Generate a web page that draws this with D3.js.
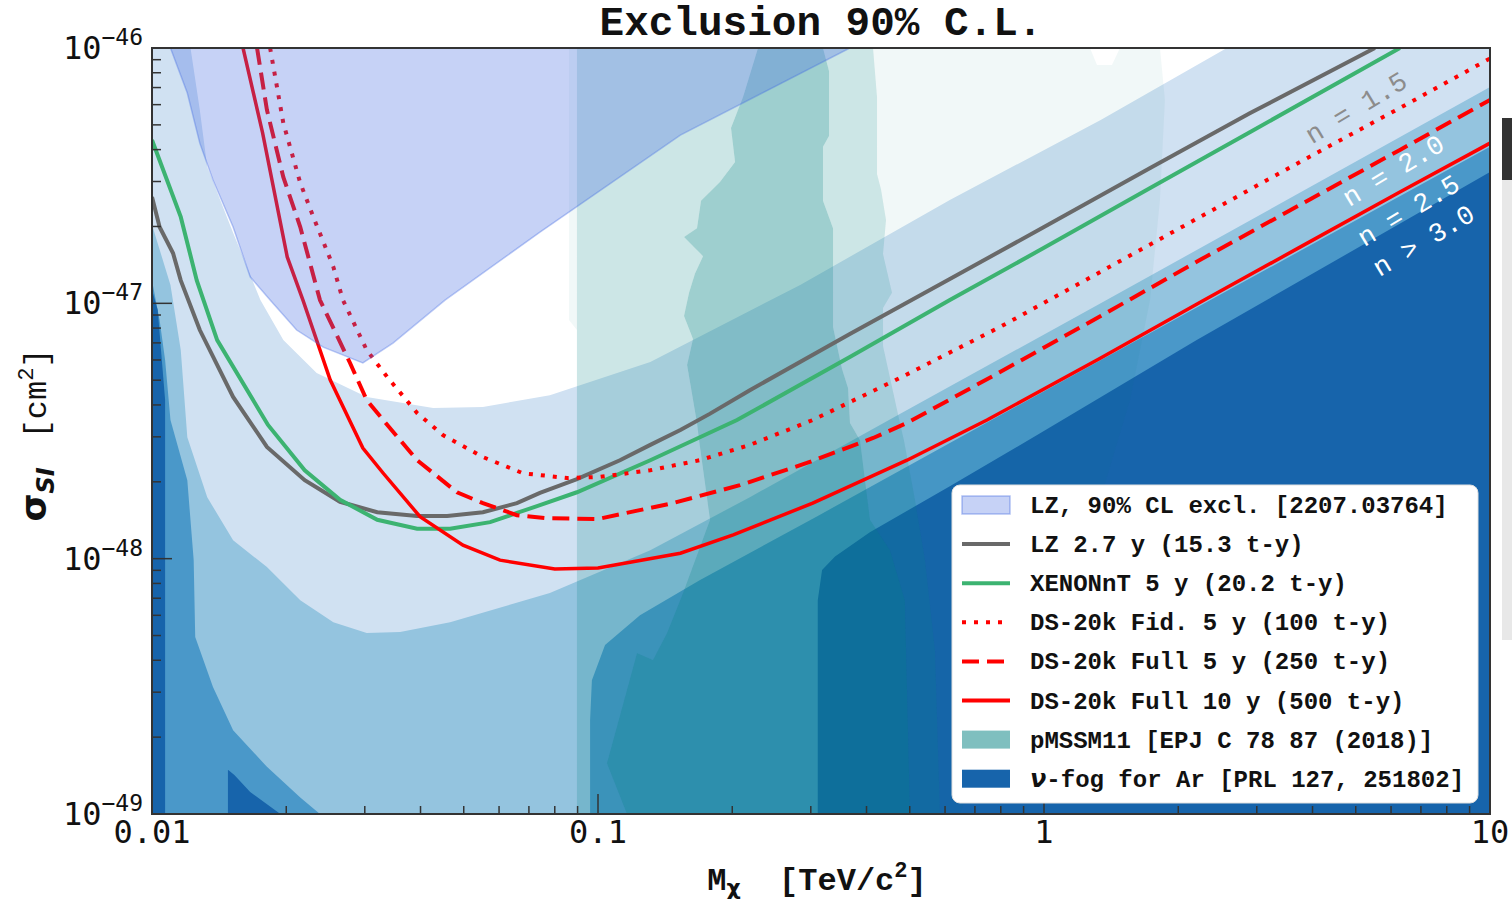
<!DOCTYPE html>
<html>
<head>
<meta charset="utf-8">
<script src="https://cdn.jsdelivr.net/npm/d3@7"></script>
<style>
  body { margin: 0; background: #fff; }
  text { white-space: pre; }
</style>
</head>
<body>
<script>
// ---- data (mass in TeV/c^2, cross section in cm^2) ----
var lz27 = [[0.01,2.61e-47],[0.0104,1.99e-47],[0.01115,1.57e-47],[0.0116,1.23e-47],[0.0128,7.86e-48],
            [0.0152,4.30e-48],[0.0181,2.74e-48],[0.022,2.03e-48],[0.0264,1.67e-48],[0.032,1.52e-48],
            [0.0393,1.47e-48],[0.0459,1.47e-48],[0.0552,1.52e-48],[0.0658,1.65e-48],[0.0741,1.81e-48],
            [0.0897,2.05e-48],[0.112,2.43e-48],[0.131,2.79e-48],[0.153,3.19e-48],[0.178,3.69e-48],
            [0.219,4.57e-48],[0.367,7.58e-48],[0.615,1.245e-47],[1.0,1.99e-47],[1.73,3.39e-47],
            [2.90,5.56e-47],[5.52,1e-46]];

var xenon5 = [[0.01,4.36e-47],[0.0116,2.18e-47],[0.0126,1.23e-47],[0.014,7.18e-48],[0.0182,3.34e-48],
              [0.022,2.22e-48],[0.0264,1.70e-48],[0.032,1.42e-48],[0.0393,1.31e-48],[0.0466,1.31e-48],
              [0.0573,1.39e-48],[0.0658,1.51e-48],[0.0741,1.62e-48],[0.0897,1.82e-48],[0.131,2.43e-48],
              [0.205,3.49e-48],[0.367,6.16e-48],[0.615,1.03e-47],[1.0,1.65e-47],[1.73,2.83e-47],
              [2.90,4.69e-47],[6.28,1e-46]];

var dsFid5 = [[0.0184,1e-46],[0.0197,5.08e-47],[0.0215,2.96e-47],[0.023,2.18e-47],[0.0255,1.39e-47],
              [0.0268,1.03e-47],[0.0303,6.56e-48],[0.0337,5.14e-48],[0.0393,3.72e-48],[0.0449,3.05e-48],
              [0.0552,2.50e-48],[0.0679,2.16e-48],[0.0852,2.07e-48],[0.101,2.09e-48],[0.131,2.22e-48],
              [0.169,2.43e-48],[0.219,2.79e-48],[0.303,3.49e-48],[0.475,5.10e-48],[0.797,8.08e-48],
              [1.34,1.33e-47],[2.24,2.18e-47],[3.75,3.58e-47],[6.28,5.82e-47],[10,9.1e-47]];

var dsFull5 = [[0.0172,1e-46],[0.0181,5.72e-47],[0.0197,3.12e-47],[0.0215,1.99e-47],[0.0238,1.03e-47],
               [0.0278,5.84e-48],[0.0303,4.18e-48],[0.033,3.49e-48],[0.0393,2.43e-48],[0.0483,1.82e-48],
               [0.0552,1.65e-48],[0.0658,1.48e-48],[0.0769,1.44e-48],[0.1,1.43e-48],[0.147,1.65e-48],
               [0.208,1.94e-48],[0.294,2.37e-48],[0.414,2.97e-48],[0.493,3.40e-48],[0.797,5.38e-48],
               [1.34,8.92e-48],[2.24,1.48e-47],[3.75,2.43e-47],[6.28,3.99e-47],[10,6.26e-47]];

var dsFull10 = [[0.016,1e-46],[0.0177,4.65e-47],[0.0201,1.52e-47],[0.0218,1.03e-47],[0.0251,5.01e-48],
                [0.0297,2.71e-48],[0.033,2.16e-48],[0.0399,1.46e-48],[0.0498,1.13e-48],[0.0603,9.87e-49],
                [0.08,9.11e-49],[0.1,9.19e-49],[0.153,1.05e-48],[0.201,1.24e-48],[0.303,1.65e-48],
                [0.493,2.43e-48],[0.745,3.49e-48],[1.34,6.11e-48],[2.24,1.01e-47],[3.75,1.66e-47],
                [6.28,2.73e-47],[10,4.24e-47]];

var lzExcl = [[0.011,1e-46],[0.012,6.66e-47],[0.0128,4.24e-47],[0.0137,3.04e-47],[0.0152,1.99e-47],
              [0.0166,1.27e-47],[0.0184,1.03e-47],[0.0211,7.86e-48],[0.0242,6.74e-48],[0.0297,5.84e-48],
              [0.0347,6.99e-48],[0.0454,1.03e-47],[0.0741,1.90e-47],[0.153,4.56e-47],[0.367,1e-46]];

// neutrino fog contours (upper edge of each band)
var fog15 = [[0.0122,1e-46],[0.0128,5.72e-47],[0.0133,3.42e-47],[0.0152,1.89e-47],[0.0175,1.03e-47],
             [0.0197,7.18e-48],[0.0234,5.33e-48],[0.0303,4.30e-48],[0.0427,3.89e-48],[0.0552,3.93e-48],
             [0.078,4.37e-48],[0.131,5.89e-48],[0.284,1.18e-47],[0.615,2.54e-47],[1.34,5.22e-47],[2.57,1e-46]];
var fog20 = [[0.01,2.03e-47],[0.011,1.18e-47],[0.0116,6.56e-48],[0.012,2.99e-48],[0.0133,1.74e-48],
             [0.0152,1.18e-48],[0.0181,9.27e-49],[0.0215,6.88e-49],[0.0255,5.64e-49],[0.0303,5.11e-49],
             [0.036,5.16e-49],[0.0466,5.64e-49],[0.078,7.33e-49],[0.131,1.08e-48],[0.219,1.74e-48],
             [0.475,3.69e-48],[1.34,1e-47],[10,7.03e-47]];
var fog25Low = [[0.01,1.23e-47],[0.0104,8.6e-48],[0.0107,6.0e-48],[0.011,3.49e-48],[0.012,2.03e-48],
                [0.0124,9.87e-49],[0.0125,4.93e-49],[0.0137,3.14e-49],[0.0152,2.13e-49],[0.0181,1.53e-49],
                [0.0215,1.16e-49],[0.0238,1e-49]];
var fog25High = [[0.096,1e-49],[0.096,2.33e-49],[0.0969,3.34e-49],[0.1037,4.59e-49],[0.1242,6.01e-49],
                 [0.169,8.24e-49],[0.311,1.47e-48],[0.615,2.84e-48],[1.62,7.18e-48],[10,4.10e-47]];
var fog30Low = [[0.01,1.13e-47],[0.0103,9.41e-48],[0.0107,4.18e-48],[0.0107,1e-49]];
var fog30Spot = [[0.0148,1e-49],[0.0148,1.49e-49],[0.0153,1.42e-49],[0.0166,1.22e-49],[0.0194,1e-49]];
var fog30High = [[0.311,1e-49],[0.311,6.88e-49],[0.318,9.03e-49],[0.34,1.02e-48],[0.407,1.27e-48],
                 [0.615,1.92e-48],[0.98,3.10e-48],[2.2,7.18e-48],[10,3.27e-47]];

// pMSSM11 contours
var pmssmOuter = [[0.0861,1e-46],[1.268,1e-46],[1.315,8.58e-47],[1.42,8.58e-47],[1.48,1e-46],[1.82,1e-46],
                  [1.867,6.26e-47],[1.82,2.54e-47],[1.729,1.03e-47],[1.559,4.18e-48],[1.336,1.70e-48],
                  [1.086,6.88e-49],[0.797,2.79e-49],[0.648,1e-49],[0.0897,1e-49],[0.0897,7.86e-48],[0.0861,8.60e-48]];
var pmssmMid = [[0.0897,1e-46],[0.0897,1e-49],[0.5845,1e-49],[0.5696,4.39e-49],[0.541,9.87e-49],[0.5137,1.70e-48],
                [0.4853,2.91e-48],[0.4754,3.40e-48],[0.4356,6.80e-48],[0.4356,9.58e-48],[0.4563,1.10e-47],
                [0.4356,1.56e-47],[0.4424,2.12e-47],[0.4311,2.80e-47],[0.4223,3.21e-47],[0.4223,6.43e-47],[0.4137,1e-46]];
var pmssmCore = [[0.2284,1e-46],[0.2114,6.43e-47],[0.1987,4.86e-47],[0.2029,3.58e-47],[0.1877,2.99e-47],
                 [0.1702,2.52e-47],[0.1667,1.97e-47],[0.1559,1.82e-47],[0.172,1.53e-47],[0.165,1.31e-47],
                 [0.16,1.10e-47],[0.1559,8.92e-48],[0.1633,7.25e-48],[0.1584,5.73e-48],[0.1667,3.40e-48],
                 [0.1685,2.91e-48],[0.1783,1.42e-48],[0.1551,7.33e-49],[0.1428,5.11e-49],[0.1328,4.01e-49],
                 [0.1223,4.27e-49],[0.1047,1.58e-49],[0.1161,1e-49],[0.5006,1e-49],[0.4876,6.88e-49],
                 [0.4516,1.08e-48],[0.4073,1.42e-48],[0.3868,2.91e-48],[0.3673,3.40e-48],[0.3636,4.66e-48],
                 [0.3525,5.53e-48],[0.3365,8.08e-48],[0.3365,1.97e-47],[0.3195,2.52e-47],[0.3195,4.10e-47],
                 [0.3296,4.52e-47],[0.3296,8.13e-47],[0.3195,1e-46]];

var xTickLabels = ["0.01", "0.1", "1", "10"];
var yTickExps = ["-49", "-48", "-47", "-46"];
var fogLabels = ["n = 1.5", "n = 2.0", "n = 2.5", "n > 3.0"];
var fogLabelPos = [[5.0, 5.87e-47], [6.06, 3.33e-47], [6.55, 2.32e-47], [7.08, 1.77e-47]];
var legendLabels = ["LZ, 90% CL excl. [2207.03764]", "LZ 2.7 y (15.3 t-y)", "XENONnT 5 y (20.2 t-y)",
                    "DS-20k Fid. 5 y (100 t-y)", "DS-20k Full 5 y (250 t-y)", "DS-20k Full 10 y (500 t-y)",
                    "pMSSM11 [EPJ C 78 87 (2018)]", "-fog for Ar [PRL 127, 251802]"];

// ---- layout ----
var w = 1512, h = 903;
var pL = 152, pR = 1490, pT = 48, pB = 814;
var mono = "'Liberation Mono', 'Courier New', monospace";
var sans = "'DejaVu Sans', sans-serif";

var x = d3.scaleLog().domain([0.01, 10]).range([pL, pR]);
var y = d3.scaleLog().domain([1e-49, 1e-46]).range([pB, pT]);
var xMin = x.domain()[0], xMax = x.domain()[1], yMin = y.domain()[0], yMax = y.domain()[1];

var svg = d3.select("body").append("svg").attr("width", w).attr("height", h);

svg.append("defs").append("clipPath").attr("id", "plot")
   .append("rect").attr("x", pL).attr("y", pT)
   .attr("width", pR - pL).attr("height", pB - pT);

var line = d3.line().x(function(d){ return x(d[0]); }).y(function(d){ return y(d[1]); });
function poly(pts){ return line(pts) + "Z"; }

var plot = svg.append("g").attr("clip-path", "url(#plot)");

// fog bands, lightest first
var fogColors = ["#d0e1f2", "#94c4df", "#4a98c9", "#1764ab"];
var fogShapes = [
  [[[xMin, yMax]].concat(fog15, [[xMax, yMax], [xMax, yMin], [xMin, yMin]])],
  [fog20.concat([[xMax, yMin], [xMin, yMin]])],
  [fog25Low.concat([[xMin, yMin]]), fog25High.concat([[xMax, yMin]])],
  [fog30Low.concat([[xMin, yMin]]), fog30Spot, fog30High.concat([[xMax, yMin]])]
];
fogShapes.forEach(function(shapes, i){
  plot.selectAll(null).data(shapes).enter().append("path")
      .attr("d", poly)
      .attr("fill", fogColors[i]);
});

// pMSSM11 bands (disjoint rings)
var teal = "#008080";
plot.append("path").attr("d", poly(pmssmOuter) + poly(pmssmMid))
    .attr("fill", teal).attr("fill-opacity", 0.055).attr("fill-rule", "evenodd");
plot.append("path").attr("d", poly(pmssmMid) + poly(pmssmCore))
    .attr("fill", teal).attr("fill-opacity", 0.2).attr("fill-rule", "evenodd");
plot.append("path").attr("d", poly(pmssmCore))
    .attr("fill", teal).attr("fill-opacity", 0.38);

// sensitivity curves
var curves = [
  {data: lz27, color: "#696969", width: 4, dash: null},
  {data: xenon5, color: "#3cb371", width: 4, dash: null},
  {data: dsFid5, color: "#ff0000", width: 4, dash: "4,8"},
  {data: dsFull5, color: "#ff0000", width: 4, dash: "17,8"},
  {data: dsFull10, color: "#ff0000", width: 3.5, dash: null}
];
plot.selectAll(".curve").data(curves).enter().append("path")
    .attr("class", "curve")
    .attr("d", function(c){ return line(c.data); })
    .attr("fill", "none")
    .attr("stroke", function(c){ return c.color; })
    .attr("stroke-width", function(c){ return c.width; })
    .attr("stroke-dasharray", function(c){ return c.dash; });

// LZ exclusion on top of the curves
plot.append("path")
    .attr("d", poly([[xMin, yMax]].concat(lzExcl)))
    .attr("fill", "rgba(65,105,225,0.3)")
    .attr("stroke", "rgba(65,105,225,0.35)")
    .attr("stroke-width", 1.5);

// fog band labels
plot.selectAll(".nlab").data(fogLabels).enter().append("text")
    .attr("class", "nlab")
    .attr("transform", function(d, i){
      return "translate(" + x(fogLabelPos[i][0]) + "," + y(fogLabelPos[i][1]) + ") rotate(-31)";
    })
    .attr("text-anchor", "middle")
    .attr("dy", "0.35em")
    .attr("font-family", mono)
    .attr("font-size", "27px")
    .attr("fill", function(d, i){ return i === 0 ? "#8c8c8c" : "#ffffff"; })
    .text(function(d){ return d; });

// ticks (inward)
function isMajor(v){ var l = Math.log10(v); return Math.abs(l - Math.round(l)) < 1e-6; }
var tickColor = "#333";
svg.selectAll(".ytick").data(y.ticks()).enter().append("line")
   .attr("x1", pL).attr("x2", function(d){ return pL + (isMajor(d) ? 20 : 9); })
   .attr("y1", function(d){ return y(d); }).attr("y2", function(d){ return y(d); })
   .attr("stroke", tickColor).attr("stroke-width", 1.5);
svg.selectAll(".xtick").data(x.ticks()).enter().append("line")
   .attr("y1", pB).attr("y2", function(d){ return pB - (isMajor(d) ? 20 : 8); })
   .attr("x1", function(d){ return x(d); }).attr("x2", function(d){ return x(d); })
   .attr("stroke", tickColor).attr("stroke-width", 1.5);

// frame
svg.append("rect").attr("x", pL).attr("y", pT)
   .attr("width", pR - pL).attr("height", pB - pT)
   .attr("fill", "none").attr("stroke", "#333").attr("stroke-width", 2);

// tick labels
var xMajors = x.ticks().filter(isMajor);
svg.selectAll(".xlab").data(xMajors).enter().append("text")
   .attr("x", function(d){ return x(d); }).attr("y", 843)
   .attr("text-anchor", "middle")
   .attr("font-family", "'DejaVu Sans Mono', monospace").attr("font-size", "32px")
   .attr("fill", "#111")
   .text(function(d, i){ return xTickLabels[i]; });

var yMajors = y.ticks().filter(isMajor);
var ylab = svg.selectAll(".ylab").data(yMajors).enter().append("text")
   .attr("x", 143).attr("y", function(d){ return y(d) + 11; })
   .attr("text-anchor", "end")
   .attr("font-family", "'DejaVu Sans Mono', monospace")
   .attr("fill", "#111");
ylab.append("tspan").attr("font-size", "32px").text("10");
ylab.append("tspan").attr("font-size", "23px").attr("dy", -14)
    .text(function(d, i){ return yTickExps[i].replace("-", "\u2212"); });

// title and axis labels
svg.append("text").attr("x", (pL + pR) / 2).attr("y", 35)
   .attr("text-anchor", "middle").attr("font-family", mono)
   .attr("font-weight", "bold").attr("font-size", "41px").attr("fill", "#111")
   .text("Exclusion 90% C.L.");

var xt = svg.append("text").attr("x", 817).attr("y", 890)
   .attr("text-anchor", "middle").attr("font-family", mono)
   .attr("font-weight", "bold").attr("font-size", "32px").attr("fill", "#111");
xt.append("tspan").text("M");
xt.append("tspan").attr("font-family", sans).attr("font-size", "22px").attr("dy", 5).text("χ");
xt.append("tspan").attr("dy", -5).text("  [TeV/c");
xt.append("tspan").attr("font-size", "22px").attr("dy", -13).text("2");
xt.append("tspan").attr("dy", 13).text("]");

var yt = svg.append("text").attr("transform", "translate(46,435) rotate(-90)")
   .attr("text-anchor", "middle").attr("font-family", mono)
   .attr("font-weight", "bold").attr("font-size", "32px").attr("fill", "#111");
yt.append("tspan").attr("font-family", sans).attr("font-size", "36px").text("σ");
yt.append("tspan").attr("font-family", sans).attr("font-style", "italic")
  .attr("font-size", "24px").attr("dy", 8).text("SI");
yt.append("tspan").attr("dy", -8).attr("font-size", "24px").text("  ");
yt.append("tspan").attr("font-weight", "normal").text("[cm");
yt.append("tspan").attr("font-weight", "normal").attr("font-size", "22px").attr("dy", -13).text("2");
yt.append("tspan").attr("font-weight", "normal").attr("dy", 13).text("]");

// legend
var lg = svg.append("g");
lg.append("rect").attr("x", 952).attr("y", 485).attr("width", 526).attr("height", 318)
  .attr("rx", 8).attr("fill", "#fff").attr("stroke", "#e0e0e0").attr("stroke-width", 1);
var handles = [
  {kind: "patch", fill: "rgba(65,105,225,0.3)", stroke: "rgba(65,105,225,0.4)"},
  {kind: "line", color: "#696969", dash: null},
  {kind: "line", color: "#3cb371", dash: null},
  {kind: "line", color: "#ff0000", dash: "4,8"},
  {kind: "line", color: "#ff0000", dash: "17,8"},
  {kind: "line", color: "#ff0000", dash: null},
  {kind: "patch", fill: "rgba(0,128,128,0.5)", stroke: "none"},
  {kind: "patch", fill: "#1764ab", stroke: "none"}
];
var rowY = function(i){ return 505 + i * 39.1; };
handles.forEach(function(hd, i){
  var cy = rowY(i);
  if (hd.kind === "patch") {
    lg.append("rect").attr("x", 962).attr("y", cy - 9).attr("width", 48).attr("height", 18)
      .attr("fill", hd.fill).attr("stroke", hd.stroke).attr("stroke-width", 1.5);
  } else {
    lg.append("line").attr("x1", 962).attr("x2", 1010).attr("y1", cy).attr("y2", cy)
      .attr("stroke", hd.color).attr("stroke-width", 4).attr("stroke-dasharray", hd.dash);
  }
});
var ltxt = lg.selectAll(".ltxt").data(legendLabels).enter().append("text")
  .attr("x", 1030).attr("y", function(d, i){ return rowY(i) + 8; })
  .attr("font-family", mono).attr("font-weight", "bold").attr("font-size", "24px")
  .attr("fill", "#111");
ltxt.filter(function(d, i){ return i === legendLabels.length - 1; })
  .append("tspan").attr("font-family", sans).attr("font-style", "italic").text("ν");
ltxt.append("tspan").text(function(d){ return d; });

// side bar at the right edge of the page
svg.append("rect").attr("x", 1502).attr("y", 118).attr("width", 10).attr("height", 62).attr("fill", "#333");
svg.append("rect").attr("x", 1502).attr("y", 180).attr("width", 10).attr("height", 460).attr("fill", "#e8e8e8");
</script>
</body>
</html>
